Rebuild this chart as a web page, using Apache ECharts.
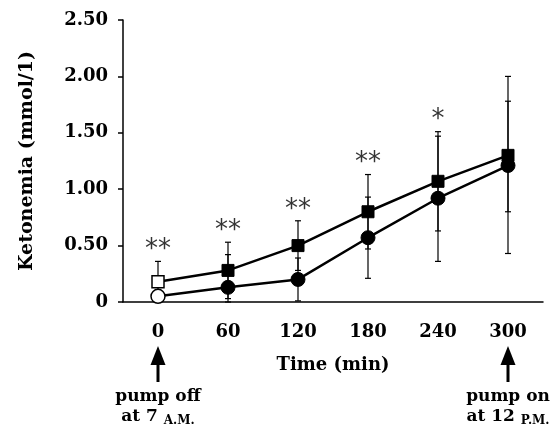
<!DOCTYPE html>
<html>
<head>
<meta charset="utf-8">
<script src="https://cdn.jsdelivr.net/npm/echarts@6/dist/echarts.min.js"></script>
<style>
  html, body { margin: 0; padding: 0; background: #fff; }
  #chart { width: 560px; height: 430px; }
</style>
</head>
<body>
<div id="chart"></div>
<script>
// time points (min)
const timeLabels = ["0", "60", "120", "180", "240", "300"];
// squares
const squareMean = [0.18, 0.28, 0.50, 0.80, 1.07, 1.30];
const squareLow = [0.00, 0.03, 0.28, 0.47, 0.63, 0.80];
const squareHigh = [0.36, 0.53, 0.72, 1.13, 1.51, 1.78];
// circles
const circleMean = [0.05, 0.13, 0.20, 0.57, 0.92, 1.21];
const circleLow = [0.05, 0.00, 0.01, 0.21, 0.36, 0.43];
const circleHigh = [0.05, 0.42, 0.39, 0.93, 1.47, 2.00];
// significance marks
const stars = ["**", "**", "**", "**", "*", ""];

const FONT = "DejaVu Serif";

function withOpenFirst(arr) {
  return arr.map(function (v, i) {
    if (i === 0) {
      return { value: v, itemStyle: { color: "#fff", borderColor: "#000", borderWidth: 1.5 } };
    }
    return v;
  });
}

function errData(low, high) {
  return low.map(function (l, i) { return [i, l, high[i]]; });
}

function renderErr(params, api) {
  const lo = api.coord([api.value(0), api.value(1)]);
  const hi = api.coord([api.value(0), api.value(2)]);
  const w = 3;
  const st = { stroke: "#000", lineWidth: 1.2 };
  return {
    type: "group",
    children: [
      { type: "line", shape: { x1: lo[0], y1: lo[1], x2: hi[0], y2: hi[1] }, style: st },
      { type: "line", shape: { x1: lo[0] - w, y1: lo[1], x2: lo[0] + w, y2: lo[1] }, style: st },
      { type: "line", shape: { x1: hi[0] - w, y1: hi[1], x2: hi[0] + w, y2: hi[1] }, style: st }
    ]
  };
}

const starPos = squareHigh.map(function (v, i) {
  return { value: Math.max(v, circleHigh[i]), label: { formatter: stars[i] } };
});

const chart = echarts.init(document.getElementById("chart"));
chart.setOption({
  animation: false,
  grid: { left: 123, right: 17, top: 20, bottom: 128 },
  xAxis: {
    type: "category",
    data: timeLabels,
    boundaryGap: true,
    name: "Time (min)",
    nameLocation: "middle",
    nameGap: 54,
    nameTextStyle: { fontFamily: FONT, fontWeight: "bold", fontSize: 18, color: "#000" },
    axisLine: { lineStyle: { color: "#000", width: 1.5 } },
    axisTick: { alignWithLabel: true, length: 6, lineStyle: { color: "#000", width: 1.5 } },
    axisLabel: { fontFamily: FONT, fontWeight: "bold", fontSize: 18, color: "#000", margin: 21 },
    splitLine: { show: false }
  },
  yAxis: {
    type: "value",
    min: 0,
    max: 2.5,
    interval: 0.5,
    name: "Ketonemia (mmol/1)",
    nameLocation: "middle",
    nameGap: 86,
    nameTextStyle: { fontFamily: FONT, fontWeight: "bold", fontSize: 19, color: "#000" },
    axisLine: { show: true, lineStyle: { color: "#000", width: 1.5 } },
    axisTick: { show: true, length: 5, lineStyle: { color: "#000", width: 1.5 } },
    axisLabel: {
      fontFamily: FONT, fontWeight: "bold", fontSize: 18, color: "#000", margin: 15,
      formatter: function (v) { return v === 0 ? "0" : v.toFixed(2); }
    },
    splitLine: { show: false }
  },
  series: [
    {
      type: "custom",
      renderItem: renderErr,
      data: errData(squareLow, squareHigh),
      z: 1,
      silent: true
    },
    {
      type: "custom",
      renderItem: renderErr,
      data: errData(circleLow, circleHigh),
      z: 1,
      silent: true
    },
    {
      type: "line",
      data: withOpenFirst(squareMean),
      symbol: "rect",
      symbolSize: 12,
      showAllSymbol: true,
      lineStyle: { color: "#000", width: 2.5 },
      itemStyle: { color: "#000", borderColor: "#000" },
      z: 3
    },
    {
      type: "line",
      data: withOpenFirst(circleMean),
      symbol: "circle",
      symbolSize: 14,
      showAllSymbol: true,
      lineStyle: { color: "#000", width: 2.5 },
      itemStyle: { color: "#000", borderColor: "#000" },
      z: 3
    },
    {
      type: "scatter",
      data: starPos,
      symbolSize: 0,
      silent: true,
      label: {
        show: true,
        position: "top",
        distance: -2,
        fontFamily: "DejaVu Sans",
        fontSize: 26,
        color: "#000"
      }
    }
  ]
});

// arrows and notes under the time axis
function drawNotes() {
  const p0 = chart.convertToPixel({ gridIndex: 0 }, [0, 0]);
  const p5 = chart.convertToPixel({ gridIndex: 0 }, [5, 0]);
  function arrow(x) {
    return [
      { type: "polygon", shape: { points: [[x, 346], [x - 7.5, 365], [x + 7.5, 365]] }, style: { fill: "#000" } },
      { type: "rect", shape: { x: x - 1.5, y: 362, width: 3, height: 20 }, style: { fill: "#000" } }
    ];
  }
  function note(x, l1, l2, small) {
    return {
      type: "text",
      x: x,
      y: 387,
      style: {
        text: "{a|" + l1 + "}\n{a|" + l2 + "}{s|" + small + "}",
        align: "center",
        rich: {
          a: { fontFamily: FONT, fontWeight: "bold", fontSize: 17, fill: "#000", lineHeight: 20 },
          s: { fontFamily: FONT, fontWeight: "bold", fontSize: 12, fill: "#000", lineHeight: 20, verticalAlign: "bottom" }
        }
      }
    };
  }
  chart.setOption({
    graphic: [].concat(
      arrow(p0[0]),
      arrow(p5[0]),
      [note(p0[0], "pump off", "at 7 ", "A.M."), note(p5[0], "pump on", "at 12 ", "P.M.")]
    )
  });
}
drawNotes();
</script>
</body>
</html>
